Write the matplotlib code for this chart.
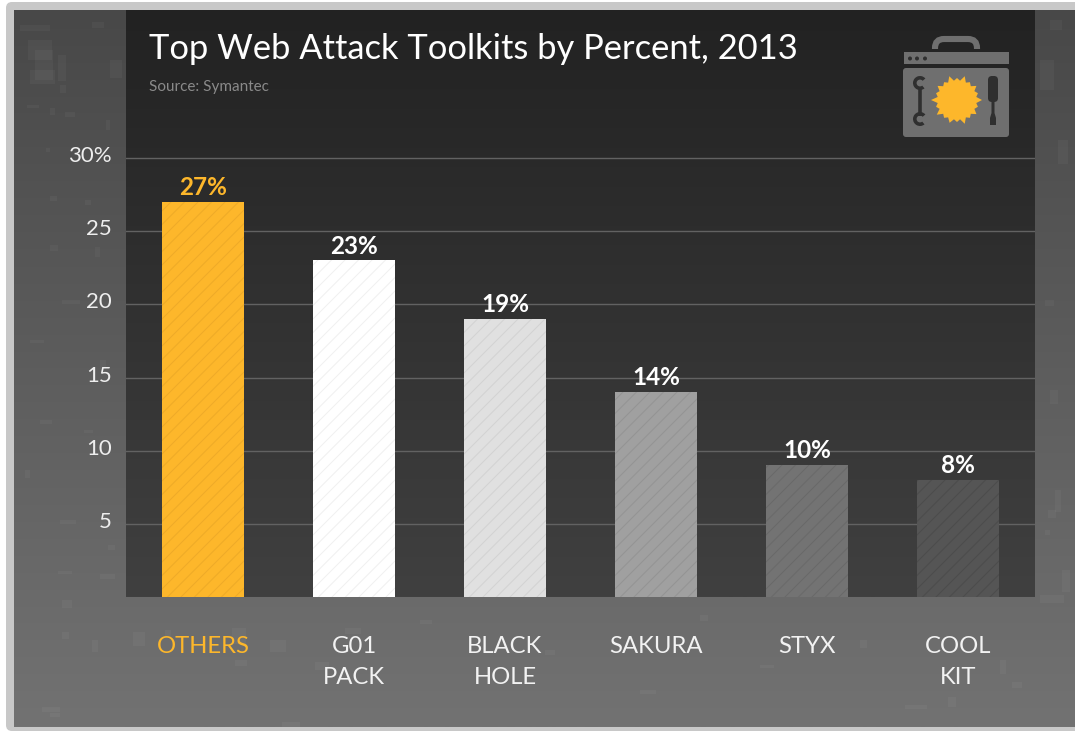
import numpy as np
import matplotlib
matplotlib.use("Agg")
import matplotlib.pyplot as plt
from matplotlib import patches
from matplotlib.colors import LinearSegmentedColormap
from matplotlib.transforms import ScaledTranslation

plt.rcParams['font.family'] = ['Lato', 'DejaVu Sans']

categories = ["OTHERS", "G01\nPACK", "BLACK\nHOLE", "SAKURA", "STYX", "COOL\nKIT"]
values = [27, 23, 19, 14, 9, 8]
value_labels = ["27%", "23%", "19%", "14%", "10%", "8%"]
bar_colors = ["#fdb72b", "#ffffff", "#e0e0e0", "#a0a0a0", "#737373", "#555555"]
line_colors = ["#eeaa28", "#f0f0f0", "#d2d2d2", "#939393", "#696969", "#4c4c4c"]
y_ticks = [5, 10, 15, 20, 25, 30]
y_labels = ["5", "10", "15", "20", "25", "30%"]

# grunge blotches on the outer panel: x, y, w, h in pixels
blotches = [
    (20, 25, 30, 6), (28, 40, 24, 20), (30, 70, 25, 14), (35, 50, 18, 30), (58, 55, 8, 26),
    (110, 60, 12, 18), (92, 22, 12, 6), (60, 85, 6, 8), (27, 105, 12, 3), (50, 108, 5, 7),
    (65, 112, 10, 5), (106, 120, 4, 10), (46, 148, 4, 4), (50, 196, 7, 5), (85, 200, 6, 5),
    (50, 245, 8, 6), (95, 247, 5, 10), (62, 300, 18, 4), (30, 340, 14, 3), (100, 360, 6, 9),
    (40, 420, 12, 4), (84, 430, 9, 3), (25, 470, 5, 8), (60, 520, 16, 4), (108, 545, 7, 5),
    (58, 571, 14, 3), (100, 574, 15, 5), (62, 600, 10, 8), (62, 632, 7, 7), (92, 640, 6, 12),
    (133, 632, 12, 14), (165, 630, 6, 8), (232, 628, 14, 16), (235, 660, 12, 6), (270, 640, 16, 12),
    (345, 628, 16, 6), (315, 662, 14, 8), (42, 707, 18, 5), (50, 713, 10, 4), (282, 722, 18, 5),
    (420, 620, 12, 4), (545, 650, 10, 5), (640, 690, 16, 4), (700, 615, 8, 6), (760, 665, 14, 3),
    (860, 640, 7, 8), (905, 705, 22, 4), (1000, 660, 6, 14), (1012, 682, 10, 6), (948, 697, 8, 10),
    (1040, 60, 14, 30), (1050, 20, 12, 10), (1058, 140, 10, 24), (1045, 300, 9, 6), (1050, 390, 8, 14),
    (1055, 490, 6, 22), (1048, 510, 8, 8), (1040, 595, 24, 8), (1062, 570, 8, 22), (1045, 530, 5, 5),
]

fig = plt.figure(figsize=(10.75, 7.32), dpi=100, facecolor="white")

# pixel coordinate layer for the page, panels and icon
bg = fig.add_axes([0, 0, 1, 1], zorder=0)
bg.axis("off")

bg.add_patch(patches.FancyBboxPatch((12, 8), 1100, 717, boxstyle="round,pad=6,rounding_size=6",
                                    facecolor="#c8c8c8", edgecolor="none"))

outer = LinearSegmentedColormap.from_list("outer", ["#484848", "#727272"])
inner = LinearSegmentedColormap.from_list("inner", ["#222222", "#404040"])
ramp = np.linspace(0, 1, 256).reshape(-1, 1)
bg.imshow(ramp, cmap=outer, extent=(14, 1075, 727, 10), aspect="auto", zorder=1)
for bx, by, bw, bh in blotches:
    bg.add_patch(patches.Rectangle((bx, by), bw, bh, facecolor="white", alpha=0.035,
                                   edgecolor="none", zorder=2))
bg.imshow(ramp, cmap=inner, extent=(126, 1035, 597, 10), aspect="auto", zorder=3)
bg.set_xlim(0, 1075)
bg.set_ylim(732, 0)

# toolbox icon
grey = "#6f6f6f"
dark = "#2f2f2f"
handle = patches.FancyBboxPatch((945, 49), 22, 8, boxstyle="round,pad=10,rounding_size=9",
                                facecolor="none", edgecolor=grey, lw=4.4, zorder=4)
bg.add_patch(handle)
handle.set_clip_path(patches.Rectangle((925, 30), 60, 19, transform=bg.transData))
bg.add_patch(patches.Rectangle((904, 52), 105, 12, facecolor=grey, zorder=4))
bg.add_patch(patches.FancyBboxPatch((905, 70), 102, 65, boxstyle="round,pad=2,rounding_size=3",
                                    facecolor=grey, edgecolor="none", zorder=4))
for dx in [910, 917, 925]:
    bg.add_patch(patches.Circle((dx, 58.5), 2, facecolor=dark, zorder=5))

# wrench
bg.plot([920, 920], [88, 116], color=dark, lw=2.6, zorder=5, solid_capstyle="butt")
bg.add_patch(patches.Wedge((920, 83), 7, 50, 320, width=3.6, facecolor=dark, zorder=5))
bg.add_patch(patches.Wedge((920, 119), 7, 50, 320, width=3.6, facecolor=dark, zorder=5))

# screwdriver
bg.add_patch(patches.FancyBboxPatch((990, 78), 6, 22, boxstyle="round,pad=2,rounding_size=4",
                                    facecolor=dark, edgecolor="none", zorder=5))
bg.add_patch(patches.Polygon([(991.5, 102), (994.5, 102), (994.5, 113), (996, 118), (996, 125),
                              (990, 125), (990, 118), (991.5, 113)], facecolor=dark, zorder=5))

# sun
sun_r = [25, 19.5, 22, 19.5, 24, 19.5, 22, 19.5, 25, 19.5, 22, 19.5, 24, 19.5, 22, 19.5, 25, 19.5, 22, 19.5,
         26, 19.5, 22, 19.5, 24, 19.5, 22, 19.5, 25, 19.5, 22, 19.5, 25, 19.5, 22, 19.5, 24, 19.5, 22, 19.5]
sun_a = np.linspace(0, 2 * np.pi, len(sun_r), endpoint=False)
sun_x = 957 + np.array(sun_r) * np.cos(sun_a)
sun_y = 100 + np.array(sun_r) * np.sin(sun_a)
bg.add_patch(patches.Polygon(np.column_stack([sun_x, sun_y]), facecolor="#fdb72b", zorder=5))

# the chart
ax = fig.add_axes([126 / 1075, (732 - 597) / 732, 909 / 1075, 587 / 732], zorder=1)
ax.patch.set_alpha(0)
ax.set_xlim(-0.51, 5.51)
ax.set_ylim(0, 587 / (439 / 30))
for side in ax.spines.values():
    side.set_visible(False)

ax.set_axisbelow(True)
ax.yaxis.grid(True, color="#626262", lw=1)
ax.set_yticks(y_ticks)
ax.set_yticklabels(y_labels, color="#eeeeee", fontsize=16, va="center")
ax.tick_params(axis="y", length=0, pad=10)
shift_up = ScaledTranslation(0, 2 / 100, fig.dpi_scale_trans)
for lab in ax.get_yticklabels():
    lab.set_transform(lab.get_transform() + shift_up)

ax.set_xticks(range(len(categories)))
ax.set_xticklabels(categories, fontsize=17.2, color="#f2f2f2", linespacing=1.6)
ax.tick_params(axis="x", length=0, pad=28)
ax.get_xticklabels()[0].set_color("#fdb72b")

bars = ax.bar(range(len(categories)), values, width=82 / 151, color=bar_colors, zorder=3)
for i, rect in enumerate(bars):
    # diagonal stripes across each bar, clipped to it
    left = 162 + 151 * i
    for start in np.arange(left - 440, left + 100, 13.5):
        ln = ax.plot([start, start + 450], [597, 597 - 450], color=line_colors[i], lw=0.7, zorder=3.5,
                     transform=bg.transData)[0]
        ln.set_clip_path(rect)
    ax.text(i, values[i] + 0.2, value_labels[i], ha="center", va="bottom", fontsize=17.5, fontweight="bold",
            color="#fdb72b" if i == 0 else "white", zorder=4)

fig.text(149 / 1075, 1 - 49 / 732, "Top Web Attack Toolkits by Percent, 2013", fontsize=24.85,
         color="white", va="center", ha="left")
fig.text(149 / 1075, 1 - 87 / 732, "Source: Symantec", fontsize=11, color="#8a8a8a", va="center", ha="left")

fig.savefig("out.png", dpi=100)
